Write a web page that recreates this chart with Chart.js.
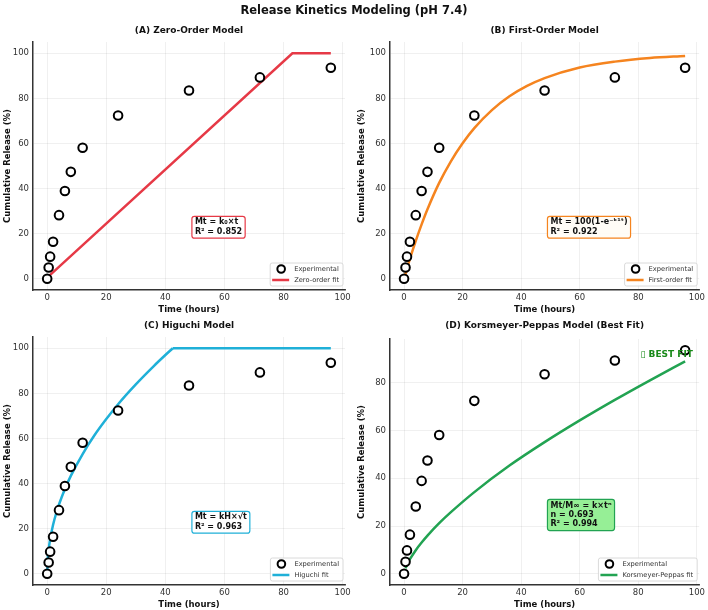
<!DOCTYPE html>
<html><head><meta charset="utf-8">
<script src="https://cdn.jsdelivr.net/npm/chart.js@4.4.0/dist/chart.umd.min.js"></script>
<style>
html,body{margin:0;padding:0;background:#fff;}
#fig{position:relative;width:708px;height:610px;overflow:hidden;background:#fff;}
.panel{position:absolute;}
#suptitle{position:absolute;left:0;top:3px;width:708px;text-align:center;font:bold 11.5px "DejaVu Sans",sans-serif;line-height:14px;color:#111;z-index:5;}
</style></head><body>
<div id="fig">
<div class="panel" style="left:0;top:0;width:354px;height:315px"><canvas id="cA"></canvas></div>
<div class="panel" style="left:354px;top:0;width:354px;height:315px"><canvas id="cB"></canvas></div>
<div class="panel" style="left:0;top:315px;width:354px;height:295px"><canvas id="cC"></canvas></div>
<div class="panel" style="left:354px;top:315px;width:354px;height:295px"><canvas id="cD"></canvas></div>
<div id="suptitle">Release Kinetics Modeling (pH 7.4)</div>
</div>
<script>
// ---- Data ----
const timeHours  = [0, 0.5, 1, 2, 4, 6, 8, 12, 24, 48, 72, 96];
const releasePct = [0, 5.0, 9.8, 16.4, 28.2, 38.9, 47.4, 58.1, 72.4, 83.5, 89.3, 93.6];

const zeroOrderT = [0, 83, 96];
const zeroOrderY = [0.5, 100, 100];

const firstOrderT = [0, 2, 4, 6, 8, 12, 16, 20, 24, 30, 36, 42, 48, 60, 72, 84, 96];
const firstOrderY = [0, 8.8, 16.8, 24.1, 30.8, 42.5, 52.1, 60.1, 66.8, 74.8, 80.9, 85.5, 89.0, 93.7, 96.3, 97.9, 98.8];

const higuchiRiseT = [0, 0.25, 0.5, 1, 2, 3, 4, 6, 8, 12, 16, 20, 24, 30, 36, 40, 42.5];
const higuchiRiseY = [0, 7.7, 10.8, 15.3, 21.7, 26.6, 30.7, 37.6, 43.4, 53.1, 61.4, 68.6, 75.2, 84.0, 92.0, 97.0, 100];
const higuchiPlateauT = [42.5, 96];
const higuchiPlateauY = [100, 100];

const peppasT = [0.5, 1, 2, 4, 6, 8, 12, 16, 24, 36, 48, 60, 72, 84, 96];
const peppasY = [2.3, 3.8, 6.1, 9.9, 13.1, 16.0, 21.2, 25.8, 34.2, 45.3, 55.1, 64.2, 72.8, 81.0, 88.9];

const xTickValues = [0, 20, 40, 60, 80, 100];
const yTickValues = [0, 20, 40, 60, 80, 100];
const yTickValuesD = [0, 20, 40, 60, 80];

const panelTitles = ["(A) Zero-Order Model", "(B) First-Order Model", "(C) Higuchi Model", "(D) Korsmeyer-Peppas Model (Best Fit)"];
const fitLabels = ["Zero-order fit", "First-order fit", "Higuchi fit", "Korsmeyer-Peppas fit"];
const annotations = [
  ["Mt = k\u2080\u00d7t", "R\u00b2 = 0.852"],
  ["Mt = 100(1-e\u207b\u1d4f\u00b9\u1d57)", "R\u00b2 = 0.922"],
  ["Mt = kH\u00d7\u221at", "R\u00b2 = 0.963"],
  ["Mt/M\u221e = k\u00d7t\u207f", "n = 0.693", "R\u00b2 = 0.994"]
];
const bestFitText = "\u25af BEST FIT";

// ---- Rendering ----
const FONT = '"DejaVu Sans", sans-serif';
const xy = (xs, ys) => xs.map((x, i) => ({x: x, y: ys[i]}));

function roundRect(ctx, x, y, w, h, r) {
  ctx.beginPath();
  ctx.moveTo(x + r, y);
  ctx.lineTo(x + w - r, y); ctx.quadraticCurveTo(x + w, y, x + w, y + r);
  ctx.lineTo(x + w, y + h - r); ctx.quadraticCurveTo(x + w, y + h, x + w - r, y + h);
  ctx.lineTo(x + r, y + h); ctx.quadraticCurveTo(x, y + h, x, y + h - r);
  ctx.lineTo(x, y + r); ctx.quadraticCurveTo(x, y, x + r, y);
  ctx.closePath();
}

function makePanel(id, p) {
  const decor = {
    id: 'decor' + id,
    afterDatasetsDraw(chart) {
      const ctx = chart.ctx, ca = chart.chartArea;
      const xs = chart.scales.x, ys = chart.scales.y;
      ctx.save();
      // panel title
      ctx.font = 'bold 9px ' + FONT;
      ctx.fillStyle = '#111';
      ctx.textAlign = 'center'; ctx.textBaseline = 'middle';
      ctx.fillText(p.title, (ca.left + ca.right) / 2, p.titleY);
      // annotation box
      ctx.font = 'bold 8px ' + FONT;
      let tw = 0;
      p.annot.forEach(t => { tw = Math.max(tw, ctx.measureText(t).width); });
      const n = p.annot.length;
      const bh = (n - 1) * 9.3 + 12.5;
      const bx = xs.getPixelForValue(50) - 3;
      const bb = ys.getPixelForValue(20) + 4.5;
      const bt = bb - bh;
      roundRect(ctx, bx, bt, tw + 6, bh, 2.5);
      ctx.fillStyle = p.annotBg; ctx.fill();
      ctx.lineWidth = 1.2; ctx.strokeStyle = p.color; ctx.stroke();
      ctx.fillStyle = '#111'; ctx.textAlign = 'left'; ctx.textBaseline = 'middle';
      p.annot.forEach((t, i) => ctx.fillText(t, bx + 3, bt + 6 + i * 9.3));
      // legend
      ctx.font = '6.7px ' + FONT;
      const lw = Math.max(ctx.measureText('Experimental').width, ctx.measureText(p.fitLabel).width);
      const w = 24 + lw + 4, h = 23;
      const lr = ca.right - 2, lb = ca.bottom - 4;
      const ll = lr - w, lt = lb - h;
      roundRect(ctx, ll, lt, w, h, 2);
      ctx.fillStyle = 'rgba(255,255,255,0.85)'; ctx.fill();
      ctx.lineWidth = 0.8; ctx.strokeStyle = '#d0d0d0'; ctx.stroke();
      ctx.beginPath(); ctx.arc(ll + 11, lt + 6, 3.8, 0, Math.PI * 2);
      ctx.fillStyle = '#fff'; ctx.fill(); ctx.lineWidth = 2; ctx.strokeStyle = '#000'; ctx.stroke();
      ctx.beginPath(); ctx.moveTo(ll + 2, lt + 17); ctx.lineTo(ll + 19, lt + 17);
      ctx.lineWidth = 2.5; ctx.strokeStyle = p.color; ctx.stroke();
      ctx.fillStyle = '#333'; ctx.textAlign = 'left'; ctx.textBaseline = 'middle';
      ctx.fillText('Experimental', ll + 24, lt + 6);
      ctx.fillText(p.fitLabel, ll + 24, lt + 17);
      // best fit tag
      if (p.best) {
        ctx.font = 'bold 9px ' + FONT;
        ctx.fillStyle = '#1a8a1a'; ctx.textAlign = 'right'; ctx.textBaseline = 'top';
        ctx.fillText(p.best, ca.left + 0.98 * (ca.right - ca.left), ca.top + 0.05 * (ca.bottom - ca.top) - 1);
      }
      ctx.restore();
    }
  };
  const datasets = [
    {label: 'Experimental', data: xy(timeHours, releasePct), showLine: false,
     pointRadius: 4.3, pointBorderWidth: 2, pointBorderColor: '#000', pointBackgroundColor: '#fff', order: 0}
  ];
  p.fits.forEach(f => datasets.push({
    label: p.fitLabel, data: xy(f.t, f.y), showLine: true, pointRadius: 0,
    borderColor: p.color, borderWidth: 2.5, tension: 0,
    cubicInterpolationMode: f.smooth ? 'monotone' : 'default', order: 1
  }));
  return new Chart(document.getElementById(id), {
    type: 'scatter',
    data: {datasets: datasets},
    options: {
      responsive: true, maintainAspectRatio: false, animation: false,
      events: [],
      layout: {padding: {top: p.padTop, right: p.padRight, left: 0, bottom: 0}},
      plugins: {legend: {display: false}, tooltip: {enabled: false}, title: {display: false}},
      scales: {
        x: {type: 'linear', min: -4.8, max: 100.8,
            afterBuildTicks: s => { s.ticks = xTickValues.map(v => ({value: v})); },
            afterFit: s => { s.height = 25; },
            grid: {color: 'rgba(0,0,0,0.08)', lineWidth: 0.8, drawTicks: false},
            border: {display: true, color: '#333', width: 1.5},
            ticks: {padding: 3, color: '#333', font: {family: FONT, size: 8.5}, maxRotation: 0, autoSkip: false},
            title: {display: true, text: 'Time (hours)', color: '#111', font: {family: FONT, size: 8.5, weight: 'bold'}, padding: {top: 1, bottom: 0}}},
        y: {type: 'linear', min: p.yMin, max: p.yMax,
            afterBuildTicks: s => { s.ticks = p.yTicks.map(v => ({value: v})); },
            afterFit: s => { s.width = p.yWidth; },
            grid: {color: 'rgba(0,0,0,0.08)', lineWidth: 0.8, drawTicks: false},
            border: {display: true, color: '#333', width: 1.5},
            ticks: {padding: 4, color: '#333', font: {family: FONT, size: 8.5}, autoSkip: false},
            title: {display: true, text: 'Cumulative Release (%)', color: '#111', font: {family: FONT, size: 8.5, weight: 'bold'}, padding: {top: 3, bottom: 0}}}
      }
    },
    plugins: [decor]
  });
}

makePanel('cA', {title: panelTitles[0], titleY: 31, color: '#e63946', fitLabel: fitLabels[0],
  fits: [{t: zeroOrderT, y: zeroOrderY, smooth: false}], yMin: -5, yMax: 105, yTicks: yTickValues,
  yWidth: 33, padTop: 42, padRight: 9, annot: annotations[0], annotBg: 'rgba(255,255,255,0.9)'});
makePanel('cB', {title: panelTitles[1], titleY: 31, color: '#f5841f', fitLabel: fitLabels[1],
  fits: [{t: firstOrderT, y: firstOrderY, smooth: true}], yMin: -5, yMax: 105, yTicks: yTickValues,
  yWidth: 36, padTop: 42, padRight: 6, annot: annotations[1], annotBg: 'rgba(255,252,245,0.9)'});
makePanel('cC', {title: panelTitles[2], titleY: 11, color: '#1fb0d8', fitLabel: fitLabels[2],
  fits: [{t: higuchiRiseT, y: higuchiRiseY, smooth: true}, {t: higuchiPlateauT, y: higuchiPlateauY, smooth: false}],
  yMin: -5, yMax: 105, yTicks: yTickValues,
  yWidth: 33, padTop: 22, padRight: 9, annot: annotations[2], annotBg: 'rgba(255,255,255,0.9)'});
makePanel('cD', {title: panelTitles[3], titleY: 11, color: '#22a352', fitLabel: fitLabels[3],
  fits: [{t: peppasT, y: peppasY, smooth: true}], yMin: -4.68, yMax: 98.28, yTicks: yTickValuesD,
  yWidth: 36, padTop: 24, padRight: 7, annot: annotations[3], annotBg: 'rgba(144,238,144,0.95)', best: bestFitText});
</script>
</body></html>
